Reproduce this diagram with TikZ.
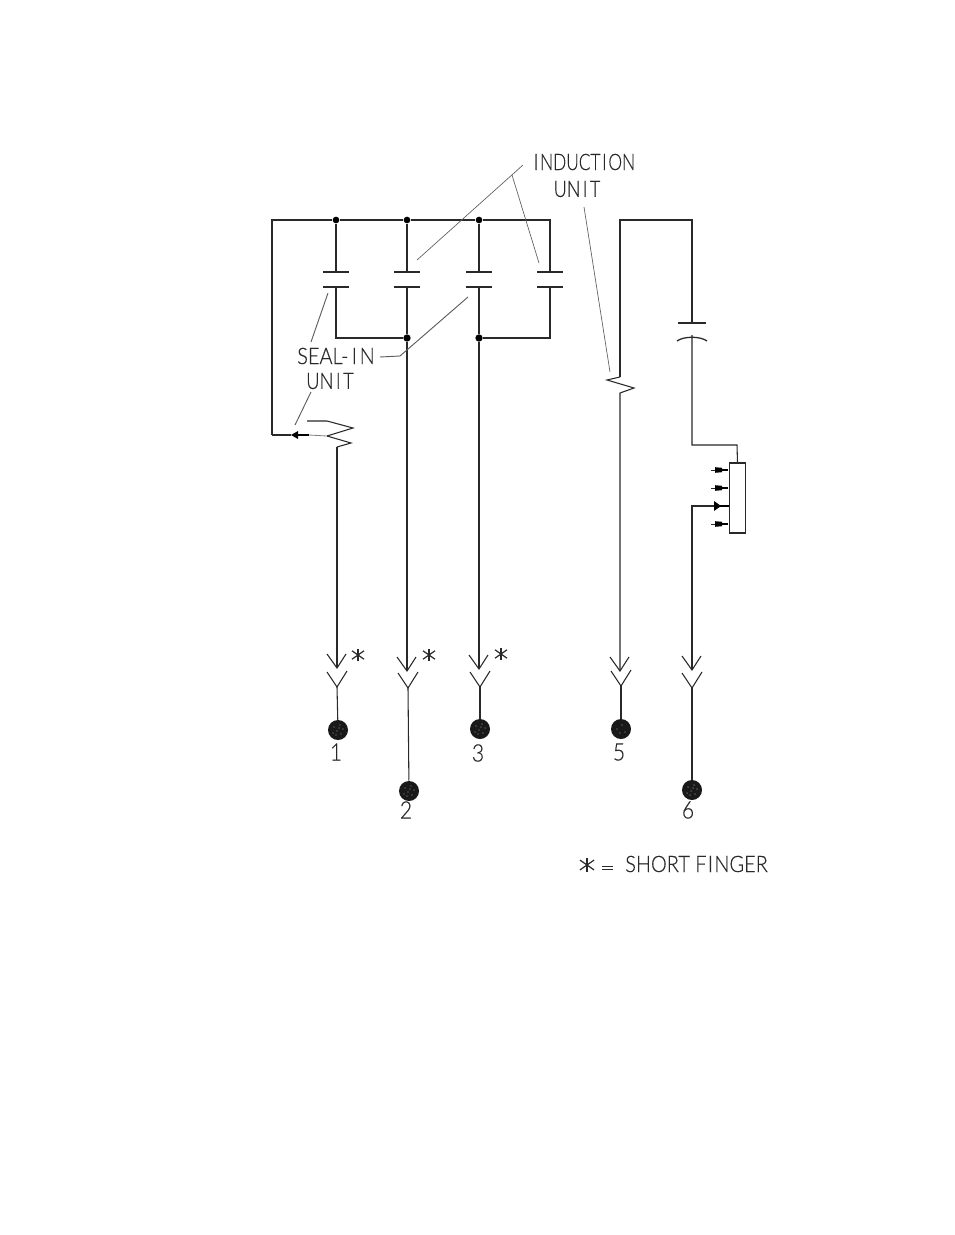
\documentclass[tikz,border=0pt]{standalone}
\usepackage{fontspec}
\setmainfont[UprightFont=* Light,UprightFeatures={FakeBold=0.35},FakeStretch=0.88,Numbers=Lining]{Lato}
\usetikzlibrary{arrows.meta}
\definecolor{ink}{gray}{0.16}
\tikzset{
  x=0.75pt,y=-0.75pt,
  wire/.style={draw=ink,line width=0.8pt,line join=miter},
  plate/.style={draw=ink,line width=0.95pt},
  leader/.style={draw=ink!75,line width=0.5pt},
  junction/.style={circle,fill=black,inner sep=0pt,minimum size=5.5pt},
  terminal/.style={circle,fill=black!90,inner sep=0pt,minimum size=15pt},
  lbl/.style={inner sep=0pt,text=ink,font=\fontsize{17}{20}\selectfont},
  num/.style={inner sep=0pt,text=ink,font=\fontsize{18}{20}\selectfont},
  finger/.style={draw=ink,line width=0.8pt},
}
\begin{document}
\begin{tikzpicture}
\useasboundingbox (0,0) rectangle (954,1235);
\fill[white] (0,0) rectangle (954,1235);
% junctions on the bus and below the contacts
\node[junction,minimum size=5pt] (j1) at (336,220) {};
\node[junction,minimum size=5pt] (j2) at (407,220) {};
\node[junction,minimum size=5pt] (j3) at (479,220) {};
\node[junction] (j4) at (407,338) {};
\node[junction] (j5) at (479,338) {};
% corners and contact points
\coordinate (tl) at (272,220);
\coordinate (tr) at (550,220);
\coordinate (cl) at (272,435);
\coordinate (bl) at (336,338);
\coordinate (br) at (550,338);
\foreach \n/\x in {a/336,b/407,c/479,d/550}{
  \coordinate (\n up) at (\x,272);
  \coordinate (\n dn) at (\x,287);
  \draw[plate] (\x-13,272) -- (\x+13,272);
  \draw[plate] (\x-13,287) -- (\x+13,287);
}
% bus
\draw[wire] (cl) -- (tl) -- (j1) -- (j2) -- (j3) -- (tr) -- (dup);
\draw[wire] (j1) -- (aup);
\draw[wire] (j2) -- (bup);
\draw[wire] (j3) -- (cup);
\draw[wire] (adn) -- (bl) -- (j4);
\draw[wire] (bdn) -- (j4);
\draw[wire] (cdn) -- (j5);
\draw[wire] (ddn) -- (br) -- (j5);
% seal-in coil
\coordinate (sa) at (291,435);
\coordinate (sb) at (309,435);
\coordinate (cb) at (337,447);
\draw[wire] (cl) -- (sa);
\draw[draw=black,line width=2pt] (297,435) -- (sb);
\fill[black] (sa) -- (298,431) -- (298,439) -- cycle;
\draw[draw=ink!60,line width=0.6pt] (sb) -- (327,436);
\draw[wire] (327,436) -- (351,443) -- (cb);
\draw[wire] (307,421) -- (327,421) -- (353,428) -- (327,436);
% terminals
\node[terminal] (t1) at (338,730) {};
\node[terminal] (t2) at (409,791) {};
\node[terminal] (t3) at (480,729) {};
\node[terminal] (t5) at (621,729) {};
\node[terminal] (t6) at (692,790) {};
% speckled texture of the terminals
\foreach \t in {t1,t2,t3,t6}{
  \foreach \dx/\dy in {-4/-3,2/-5,5/-1,-1/1,3/4,-5/3,-2/5,1/-2}{
    \fill[white!60!black] ([shift={(\dx,\dy)}]\t.center) circle (0.55pt);
  }
}
\foreach \dx/\dy in {-4/0,1/-4,4/3,-1/4}{
  \fill[white!60!black] ([shift={(\dx,\dy)}]t5.center) circle (0.45pt);
}
% fingers: column, arrow tip, fork vertex
\foreach \n/\x/\tipy/\vx/\vy in {p/337/668/337/687,q/407/671/408/688,r/479/669/480/687,s/620/671/621/686,u/692/670/692/688}{
  \coordinate (\n tip) at (\x,\tipy);
  \coordinate (\n v) at (\vx,\vy);
  \draw[finger] (\x-10,\tipy-14) -- (\n tip) -- (\x+9,\tipy-14);
  \draw[finger] (\vx-10,\vy-15) -- (\n v) -- (\vx+10,\vy-16);
}
\draw[wire] (cb) -- (ptip);
\draw[wire] (j4) -- (qtip);
\draw[wire] (j5) -- (rtip);
\draw[wire] (pv) -- (t1);
\draw[wire] (qv) -- (t2);
\draw[wire] (rv) -- (t3);
\draw[wire] (sv) -- (t5);
\draw[wire] (uv) -- (t6);
% right hand branch
\coordinate (rt1) at (620,220);
\coordinate (rt2) at (692,220);
\coordinate (cup6) at (692,323);
\coordinate (cdn6) at (692,335);
\draw[wire] (620,377) -- (rt1) -- (rt2) -- (cup6);
\draw[wire] (620,377) -- (607,380) -- (634,388) -- (620,393) -- (stip);
\draw[plate] (678,323) -- (706,323);
\draw[plate] (677,341) .. controls (684,336) and (700,336) .. (707,341);
% tapped resistor
\node[draw=ink,line width=0.8pt,minimum width=12.5pt,minimum height=52.5pt,inner sep=0pt] (res) at (737.5,498) {};
\coordinate (rc) at (692,445);
\coordinate (rc2) at (737,445);
\draw[wire] (cdn6) -- (rc) -- (rc2) -- (res.north);
\coordinate (rt) at (692,506);
\draw[wire] (utip) -- (rt) -- (res.west|-rt);
\fill[black] (714,501) -- (721,506) -- (714,511) -- cycle;
\draw[draw=black,line width=1.2pt] (719,506) -- (res.west|-rt);
\foreach \n/\y in {1/470,2/488,3/524}{
  \coordinate (st\n) at (711,\y);
  \draw[finger,line width=0.6pt] (st\n) -- (716,\y);
  \draw[draw=black,line width=1pt] (716,\y) -- (728,\y);
  \fill[black] (715,\y-2.8) -- (722,\y-2.2) -- (722,\y+2.2) -- (715,\y+2.8) -- cycle;
}
% texts
\node[lbl] (ind) at (584.5,162) {\scalebox{0.865}[1]{I\kern1.5pt NDUCT\kern1.5pt I\kern1.5pt ON}};
\node[lbl] (ind2) at (577,189) {\scalebox{0.9}[1]{UN\kern2pt I\kern2pt T}};
\node[lbl] (seal) at (336,356) {SEAL-\kern2.5pt I\kern2pt N};
\node[lbl] (seal2) at (330,381) {\scalebox{0.92}[1]{UN\kern2pt I\kern2pt T}};
\node[num] (n1) at (336,752) {1};
\node[num] (n2) at (406,810) {2};
\node[num] (n3) at (478,753) {3};
\node[num] (n5) at (619,752) {5};
\node[num] (n6) at (688,810) {6};
\node[lbl,anchor=west] (sf) at (625,864) {SHORT F\kern1pt I\kern1pt NGER};
% short finger marks
\foreach \n/\x/\y/\r in {m1/358/655/6,m2/429/655/6,m3/501/654/6,m4/587/865/7}{
  \coordinate (\n) at (\x,\y);
  \draw[draw=ink,line width=0.9pt] (\x,\y-\r) -- (\x,\y+\r);
  \draw[draw=ink,line width=0.9pt] (\x-\r,\y-0.7*\r) -- (\x+\r,\y+0.7*\r);
  \draw[draw=ink,line width=0.9pt] (\x-\r,\y+0.7*\r) -- (\x+\r,\y-0.7*\r);
}
\draw[draw=ink,line width=0.7pt] (602,866) -- (613,866) (602,869) -- (613,869);
% leaders
\coordinate (la) at (523,165); \coordinate (lb) at (417,260);
\coordinate (lc) at (512,175); \coordinate (ld) at (539,263);
\coordinate (le) at (584,207); \coordinate (lf) at (610,372);
\coordinate (lg) at (311,342); \coordinate (lh) at (328,293);
\coordinate (li) at (311,392); \coordinate (lj) at (295,425);
\coordinate (lk) at (380,357); \coordinate (ll) at (400,356); \coordinate (lm) at (468,297);
\draw[leader] (la) -- (lb);
\draw[leader] (lc) -- (ld);
\draw[leader] (le) -- (lf);
\draw[leader,line width=0.7pt] (lg) -- (lh);
\draw[leader,line width=0.7pt] (li) -- (lj);
\draw[leader,line width=0.7pt] (lk) -- (ll) -- (lm);
\end{tikzpicture}
\end{document}
